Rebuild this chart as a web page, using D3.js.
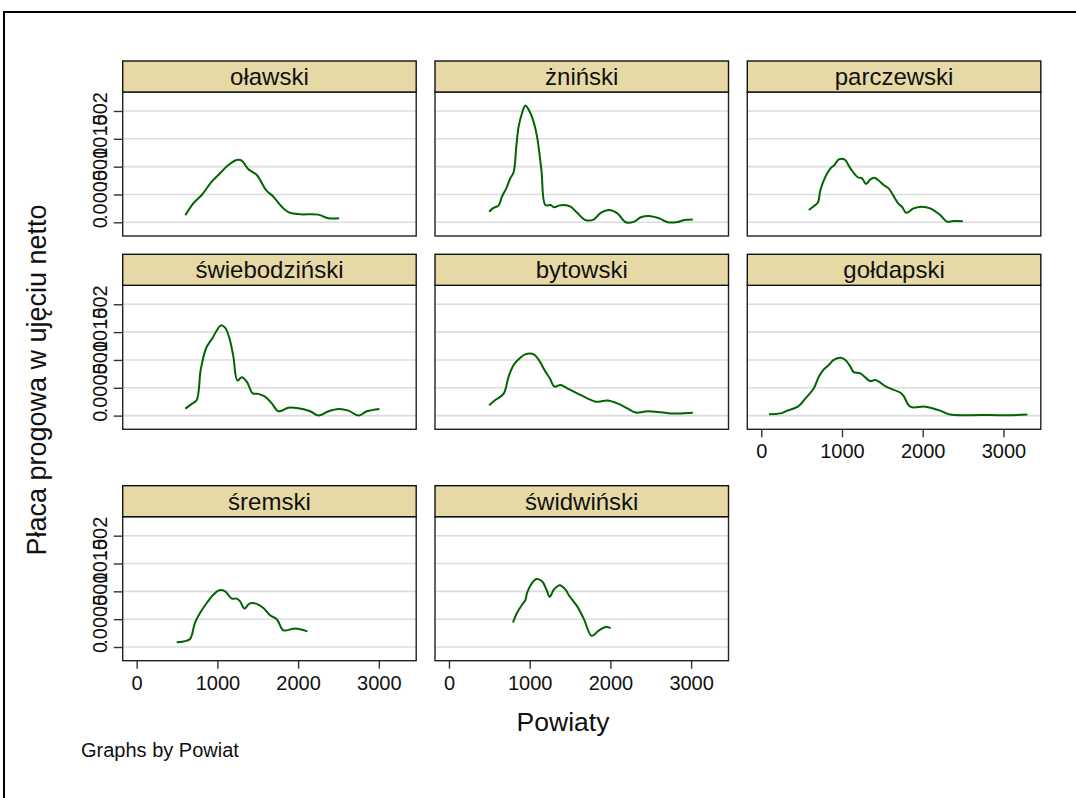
<!DOCTYPE html>
<html><head><meta charset="utf-8">
<script src="https://cdn.jsdelivr.net/npm/d3@7"></script>
<style>body{margin:0;background:#fff}svg{display:block}text{font-family:Arial,"Liberation Sans",sans-serif}</style>
</head><body><svg id="c" width="1076" height="798"></svg>
<script>
const powiaty = ["oławski","żniński","parczewski","świebodziński","bytowski","gołdapski","śremski","świdwiński"];
const xTicks = [0,1000,2000,3000];
const yTicks = [0,0.0005,0.001,0.0015,0.002];
const yTickLabels = ["0",".0005",".001",".0015",".002"];
const xTitle = "Powiaty";
const yTitle = "Płaca progowa w ujęciu netto";
const note = "Graphs by Powiat";

const olawskiX = [603,702,806,930,1033,1136,1240,1302,1384,1488,1603,1694,1798,1893,2025,2252,2376,2508];
const olawskiY = [0.000126,0.000341,0.000491,0.00073,0.00088,0.00103,0.00112,0.00111,0.000952,0.00085,0.00058,0.00046,0.00028,0.000174,0.000144,0.000138,0.000072,0.000072];
const zninskiX = [498,552,614,656,710,759,801,834,863,905,946,988,1041,1091,1145,1195,1257,1307,1361,1423,1506,1589,1693,1797,1880,1983,2087,2191,2295,2378,2502,2606,2710,2834,2917,3021];
const zninskiY = [0.00019,0.00026,0.0003,0.00046,0.00061,0.00079,0.0009,0.00136,0.00172,0.00196,0.0021,0.00202,0.00184,0.00154,0.00094,0.00031,0.00031,0.00027,0.0003,0.00031,0.00028,0.00017,0.00004,0.000054,0.00017,0.00022,0.00016,0,0.000012,0.00009,0.00011,0.00007,0,0.000006,0.00004,0.00005];
const parczewskiX = [589,651,700,733,795,857,907,960,1030,1104,1195,1248,1298,1351,1401,1455,1516,1578,1640,1701,1743,1796,1887,1990,2093,2217,2299,2382,2497];
const parczewskiY = [0.00022,0.00029,0.00035,0.00058,0.00082,0.00097,0.00103,0.00113,0.00113,0.00097,0.00081,0.00079,0.00069,0.00077,0.0008,0.00075,0.00067,0.00061,0.00047,0.00033,0.00028,0.00017,0.00025,0.00028,0.00025,0.00013,0.000012,0.000024,0.000018];
const swiebodzinskiX = [603,682,744,793,860,942,992,1041,1095,1149,1198,1248,1302,1364,1438,1508,1591,1674,1756,1880,1983,2149,2252,2376,2500,2624,2748,2851,3008];
const swiebodzinskiY = [0.000125,0.00021,0.00028,0.00082,0.00121,0.0014,0.00153,0.00162,0.00158,0.00139,0.00106,0.00063,0.00069,0.00061,0.0004,0.00039,0.00034,0.00022,0.000078,0.000143,0.000137,0.000078,0,0.000078,0.00012,0.00009,0,0.000078,0.00012];
const bytowskiX = [498,573,676,739,801,876,946,1050,1112,1195,1249,1307,1382,1465,1589,1714,1817,1963,2087,2212,2315,2461,2627,2751,2876,3021];
const bytowskiY = [0.000185,0.00028,0.00039,0.0007,0.00091,0.00103,0.0011,0.0011,0.001,0.00079,0.00067,0.00052,0.00055,0.00049,0.0004,0.00031,0.00025,0.00027,0.00022,0.00013,0.000054,0.000078,0.00006,0.00004,0.00004,0.00005];
const goldapskiX = [95,239,321,453,548,651,713,775,836,898,981,1042,1104,1145,1228,1351,1413,1558,1743,1846,2032,2217,2341,2732,3041,3296];
const goldapskiY = [0.000024,0.00004,0.00009,0.00016,0.00031,0.00049,0.0007,0.00083,0.00091,0.001,0.00104,0.001,0.00088,0.00078,0.00076,0.00062,0.00064,0.00051,0.00039,0.00016,0.00016,0.00009,0.000018,0.000012,0.000006,0.000018];
const sremskiX = [496,579,661,723,785,868,950,1025,1095,1178,1240,1281,1335,1397,1479,1570,1653,1736,1818,1942,2025,2116];
const sremskiY = [0.000084,0.0001,0.000143,0.00044,0.00061,0.00079,0.00094,0.00102,0.001,0.00087,0.00087,0.00082,0.00069,0.00078,0.00078,0.0007,0.00057,0.0005,0.0003,0.00033,0.00032,0.00028];
const swidwinskiX = [793,842,905,946,967,1008,1083,1154,1208,1249,1299,1373,1444,1485,1589,1672,1768,1859,1942,2004];
const swidwinskiY = [0.00044,0.00061,0.00076,0.00084,0.00097,0.0011,0.00122,0.00118,0.00103,0.0009,0.00103,0.00111,0.00103,0.00093,0.00073,0.0005,0.0002,0.0003,0.00036,0.00034];

const seriesX = [olawskiX,zninskiX,parczewskiX,swiebodzinskiX,bytowskiX,goldapskiX,sremskiX,swidwinskiX];
const seriesY = [olawskiY,zninskiY,parczewskiY,swiebodzinskiY,bytowskiY,goldapskiY,sremskiY,swidwinskiY];

const FONT = "Arial, 'Liberation Sans', sans-serif";
const svg = d3.select("#c");
// outer frame
svg.append("rect").attr("x",4).attr("y",12).attr("width",1100).attr("height",820)
  .attr("fill","none").attr("stroke","#000").attr("stroke-width",2);

const colLeft = [122.7,435,747.3];
const panelW = 293.5;
const rowTop = [61,254.3,485.7];
const headH = 31, plotH = 144;
const xDom = [-173,3463];
const yDom = [-0.000246,0.002341];

powiaty.forEach((name,i)=>{
  const r = Math.floor(i/3), c = i%3;
  const x0 = colLeft[c], y0 = rowTop[r];
  const g = svg.append("g");
  const xs = d3.scaleLinear().domain(xDom).range([x0,x0+panelW]);
  const ys = d3.scaleLinear().domain(yDom).range([y0+headH+plotH,y0+headH]);
  g.append("rect").attr("x",x0).attr("y",y0+headH).attr("width",panelW).attr("height",plotH).attr("fill","#fff");
  g.selectAll(".gr").data(yTicks).enter().append("line")
    .attr("x1",x0).attr("x2",x0+panelW).attr("y1",d=>ys(d)).attr("y2",d=>ys(d))
    .attr("stroke","#dcdcdc").attr("stroke-width",1.6);
  const pts = seriesX[i].map((v,k)=>[v,seriesY[i][k]]);
  g.append("path").datum(pts)
    .attr("d",d3.line().x(d=>xs(d[0])).y(d=>ys(d[1])).curve(d3.curveCatmullRom.alpha(0.5)))
    .attr("fill","none").attr("stroke","#006400").attr("stroke-width",2);
  g.append("rect").attr("x",x0).attr("y",y0+headH).attr("width",panelW).attr("height",plotH)
    .attr("fill","none").attr("stroke","#222").attr("stroke-width",1.4);
  g.append("rect").attr("x",x0).attr("y",y0).attr("width",panelW).attr("height",headH)
    .attr("fill","#e6d9a6").attr("stroke","#111").attr("stroke-width",1.4);
  g.append("text").attr("x",x0+panelW/2).attr("y",y0+headH/2+8.5).attr("text-anchor","middle")
    .attr("font-size",24).attr("fill","#111").text(name);
  if (c===0) {
    const ya = g.append("g").attr("transform",`translate(${x0},0)`)
      .call(d3.axisLeft(ys).tickValues(yTicks).tickSize(9).tickPadding(0).tickFormat((d,k)=>yTickLabels[k]));
    ya.select(".domain").remove();
    ya.selectAll("line").attr("stroke","#333").attr("stroke-width",1.4);
    ya.selectAll("text").attr("x",null).attr("dy",null).attr("y",0)
      .attr("transform","translate(-16,0) rotate(-90)")
      .attr("text-anchor","middle").attr("font-size",20).attr("fill","#111")
      .attr("font-family",FONT);
  }
  if (r===2 || i===5) {
    const xa = g.append("g").attr("transform",`translate(0,${y0+headH+plotH})`)
      .call(d3.axisBottom(xs).tickValues(xTicks).tickSize(8).tickPadding(7).tickFormat(d3.format("d")));
    xa.select(".domain").remove();
    xa.selectAll("line").attr("stroke","#333").attr("stroke-width",1.4);
    xa.selectAll("text").attr("font-size",20).attr("fill","#111").attr("font-family",FONT);
  }
});

svg.append("text").attr("x",563).attr("y",731).attr("text-anchor","middle").attr("font-size",26.5).attr("fill","#111").text(xTitle);
svg.append("text").attr("transform","translate(46,380) rotate(-90)").attr("text-anchor","middle").attr("font-size",27).attr("fill","#111").text(yTitle);
svg.append("text").attr("x",81).attr("y",757).attr("font-size",20).attr("fill","#111").text(note);
</script></body></html>
